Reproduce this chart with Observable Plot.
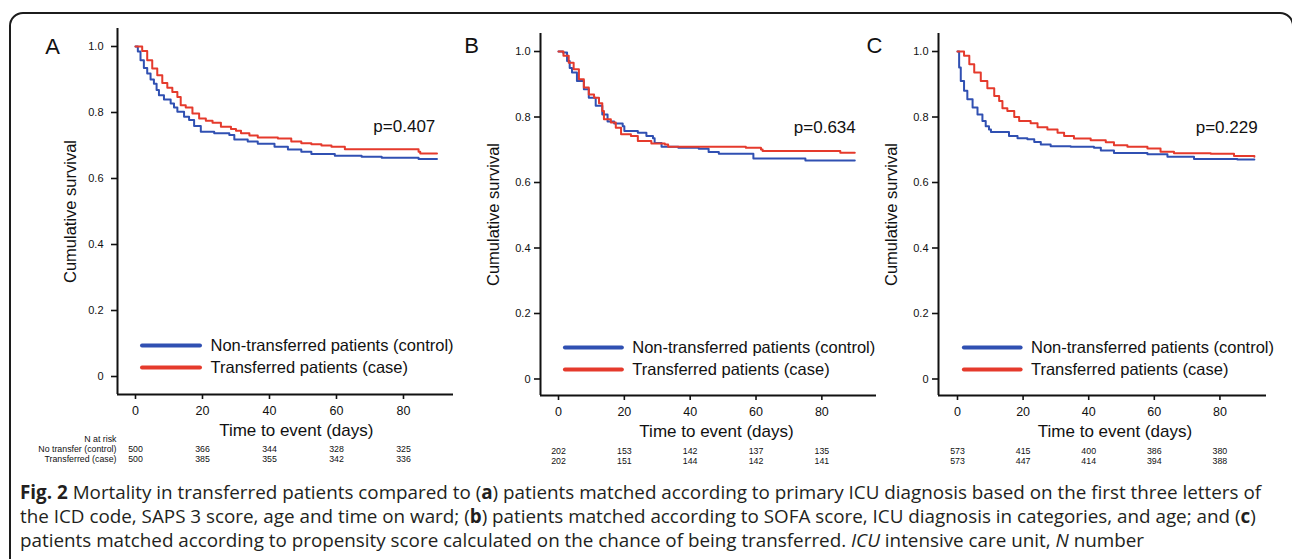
<!DOCTYPE html>
<html><head><meta charset="utf-8">
<script src="https://cdn.jsdelivr.net/npm/d3@7"></script>
<script src="https://cdn.jsdelivr.net/npm/@observablehq/plot@0.6"></script>
<style>
html,body{margin:0;padding:0;background:#fff;}
#wrap{position:relative;width:1292px;height:559px;overflow:hidden;background:#fff;}
#frame{position:absolute;left:9px;top:12px;width:1285px;height:700px;box-sizing:border-box;border:2px solid #1c1c1c;border-radius:14px;}
.panel{position:absolute;top:0;}
#caption{position:absolute;left:20px;top:480px;font-family:"Open Sans",sans-serif;color:#231f20;white-space:nowrap;}
#caption div{line-height:24px;}
</style></head><body>
<div id="wrap">
<div id="frame"></div>
<div id="pA" class="panel" style="left:0px"></div>
<div id="pB" class="panel" style="left:430px"></div>
<div id="pC" class="panel" style="left:860px"></div>
<div id="caption">
<div id="cl1"><b>Fig. 2</b> Mortality in transferred patients compared to (<b>a</b>) patients matched according to primary ICU diagnosis based on the first three letters of</div>
<div id="cl2">the ICD code, SAPS 3 score, age and time on ward; (<b>b</b>) patients matched according to SOFA score, ICU diagnosis in categories, and age; and (<b>c</b>)</div>
<div id="cl3">patients matched according to propensity score calculated on the chance of being transferred. <i>ICU</i> intensive care unit, <i>N</i> number</div>
</div>
</div>
<script>
// ---------- DATA ----------
const panelLetters = ["A", "B", "C"];
const seriesNames = ["Non-transferred patients (control)", "Transferred patients (case)"];
const pValues = ["p=0.407", "p=0.634", "p=0.229"];
const timeTicks = [0, 20, 40, 60, 80];
const survTicks = [0, 0.2, 0.4, 0.6, 0.8, 1.0];
const riskRowLabels = ["N at risk", "No transfer (control)", "Transferred (case)"];

// Panel A: [days, survival]
const aControl = [[0,1],[0.7,0.985],[1.5,0.958],[2.5,0.935],[3.5,0.918],[4.5,0.9],[5.5,0.887],[6.3,0.868],[7,0.852],[8.5,0.839],[10.5,0.827],[11.5,0.815],[12.5,0.802],[14.5,0.787],[16,0.777],[17.5,0.759],[19.5,0.742],[23.5,0.737],[28,0.732],[29.5,0.718],[33.5,0.712],[36.5,0.705],[41.5,0.696],[45.5,0.688],[49.5,0.681],[52.5,0.674],[59.5,0.669],[67.5,0.666],[73.5,0.663],[84.5,0.659],[90,0.659]];
const aCase = [[0,1],[2,0.986],[3.5,0.958],[5,0.933],[6.5,0.913],[8,0.889],[9.5,0.875],[11,0.862],[12.5,0.847],[13.5,0.822],[15,0.815],[17,0.797],[19,0.782],[21,0.775],[23,0.769],[25.5,0.757],[28.5,0.75],[30,0.745],[31.5,0.737],[34,0.73],[36.5,0.724],[42.5,0.721],[46.5,0.712],[49.5,0.707],[52.5,0.704],[55.5,0.7],[58.5,0.696],[62.5,0.689],[84.5,0.681],[85,0.676],[90,0.676]];
const aRiskControl = [500, 366, 344, 328, 325];
const aRiskCase = [500, 385, 355, 342, 336];

// Panel B
const bControl = [[0,1],[1.3,0.997],[2.6,0.971],[3.4,0.95],[4.1,0.936],[5.6,0.91],[7.7,0.885],[9.2,0.859],[11.3,0.834],[13.3,0.808],[14.9,0.786],[16.9,0.78],[19.5,0.772],[20,0.757],[24.1,0.752],[26.7,0.742],[28.7,0.735],[29.2,0.721],[31.3,0.709],[36.4,0.706],[42.6,0.703],[45.6,0.693],[48.7,0.688],[59.2,0.673],[75,0.667],[90,0.667]];
const bCase = [[0,1],[1.5,0.987],[3.1,0.966],[4.6,0.946],[6.2,0.915],[7.7,0.89],[9.2,0.869],[10.8,0.859],[12.3,0.842],[13.3,0.818],[13.8,0.793],[15.9,0.783],[17.4,0.767],[19,0.747],[22,0.742],[24.1,0.727],[28.2,0.719],[32.3,0.716],[33.3,0.709],[56.9,0.706],[61.5,0.701],[62,0.696],[85.6,0.691],[90,0.691]];
const bRiskControl = [202, 153, 142, 137, 135];
const bRiskCase = [202, 151, 144, 142, 141];

// Panel C
const cControl = [[0,1],[0.5,0.951],[1,0.91],[2,0.88],[3,0.854],[4.6,0.829],[6.1,0.808],[7.6,0.788],[8.6,0.772],[9.6,0.762],[10.2,0.754],[15.7,0.742],[18.3,0.735],[21.3,0.732],[23.4,0.724],[25.4,0.716],[28.4,0.711],[34.5,0.709],[41.6,0.706],[43.7,0.698],[47.7,0.69],[57.9,0.686],[64,0.679],[72.1,0.672],[85.3,0.67],[90.5,0.67]];
const cCase = [[0,1],[2,0.987],[3.6,0.961],[5.1,0.936],[7.1,0.91],[9.1,0.888],[11.2,0.864],[12.7,0.849],[13.7,0.827],[15.2,0.818],[17.3,0.8],[18.8,0.788],[22.3,0.781],[24.4,0.769],[27.4,0.762],[30.5,0.752],[32.5,0.742],[35.5,0.734],[40.6,0.729],[45.2,0.723],[47.7,0.714],[51.8,0.709],[57.9,0.704],[61.9,0.694],[66,0.689],[77.2,0.688],[84.3,0.681],[90.5,0.679]];
const cRiskControl = [573, 415, 400, 386, 380];
const cRiskCase = [573, 447, 414, 394, 388];

// ---------- STYLE / LAYOUT ----------
const colors = ["#3050b2", "#e53a2c"];
const ink = "#111";
const FONT = "'Liberation Sans', Arial, Helvetica, sans-serif";

const panels = [
  {el: "#pA", width: 460, ml: 117, mr: 7, mt: 28, mb: 81, xdom: [-5.37, 94.93], ydom: [-0.0545, 1.0545], tickPad: 8,
   letterDx: -65, letterDy: 18, pX: 89.5, pY: 0.757, legY: [0.094, 0.027], riskDy: [54.5, 64.5], showRowLabels: true,
   control: aControl, cas: aCase, riskC: aRiskControl, riskT: aRiskCase},
  {el: "#pB", width: 450, ml: 110, mr: 4, mt: 33, mb: 80, xdom: [-5.47, 96.6], ydom: [-0.0504, 1.055], tickPad: 4,
   letterDx: -69, letterDy: 12, pX: 90.3, pY: 0.768, legY: [0.096, 0.029], riskDy: [55.5, 65.5], showRowLabels: false,
   control: bControl, cas: bCase, riskC: bRiskControl, riskT: bRiskCase},
  {el: "#pC", width: 432, ml: 78, mr: 26, mt: 33, mb: 80, xdom: [-5.79, 94.2], ydom: [-0.0504, 1.055], tickPad: 4,
   letterDx: -64, letterDy: 12, pX: 91.5, pY: 0.768, legY: [0.096, 0.029], riskDy: [55.5, 65.5], showRowLabels: false,
   control: cControl, cas: cCase, riskC: cRiskControl, riskT: cRiskCase}
];

panels.forEach((cfg, k) => {
  const legend = seriesNames.map((name, i) => ({name, color: colors[i], y: cfg.legY[i]}));
  const T = {fill: ink, lineAnchor: "middle"};
  const marks = [
    Plot.axisY({ticks: survTicks, tickFormat: d => d === 0 ? "0" : d.toFixed(1), tickSize: 6, tickPadding: cfg.tickPad,
      fontSize: 11, strokeWidth: 1.6, stroke: ink, fill: ink, label: null}),
    Plot.axisX({ticks: timeTicks, tickSize: 5, tickPadding: 7, fontSize: 12.5, strokeWidth: 1.6, stroke: ink, fill: ink, label: null}),
    Plot.ruleX([cfg.xdom[0]], {stroke: ink, strokeWidth: 2}),
    Plot.ruleY([cfg.ydom[0]], {stroke: ink, strokeWidth: 2}),
    Plot.line(cfg.control, {x: d => d[0], y: d => d[1], curve: "step-after", stroke: colors[0], strokeWidth: 2}),
    Plot.line(cfg.cas, {x: d => d[0], y: d => d[1], curve: "step-after", stroke: colors[1], strokeWidth: 2}),
    Plot.ruleY(legend, {y: "y", x1: 2.1, x2: 19.4, stroke: "color", strokeWidth: 4, strokeLinecap: "round"}),
    Plot.text(legend, {...T, x: 22.4, y: "y", text: "name", textAnchor: "start", fontSize: 16.5}),
    Plot.text([pValues[k]], {...T, x: cfg.pX, y: cfg.pY, text: d => d, textAnchor: "end", fontSize: 17}),
    Plot.text([panelLetters[k]], {...T, frameAnchor: "top-left", dx: cfg.letterDx, dy: cfg.letterDy, text: d => d, textAnchor: "middle", fontSize: 22}),
    Plot.text(["Cumulative survival"], {...T, frameAnchor: "left", rotate: -90, dx: -47, text: d => d, textAnchor: "middle", fontSize: 16.5}),
    Plot.text(["Time to event (days)"], {...T, x: 48, frameAnchor: "bottom", dy: 36, text: d => d, textAnchor: "middle", fontSize: 17}),
    Plot.text(timeTicks, {...T, x: d => d, frameAnchor: "bottom", dy: cfg.riskDy[0], text: (d, i) => cfg.riskC[i], textAnchor: "middle", fontSize: 8.8}),
    Plot.text(timeTicks, {...T, x: d => d, frameAnchor: "bottom", dy: cfg.riskDy[1], text: (d, i) => cfg.riskT[i], textAnchor: "middle", fontSize: 8.8})
  ];
  if (cfg.showRowLabels) {
    const dys = [44.5, cfg.riskDy[0], cfg.riskDy[1]];
    riskRowLabels.forEach((lab, i) => {
      marks.push(Plot.text([lab], {...T, frameAnchor: "bottom-left", dx: -1, dy: dys[i], text: d => d, textAnchor: "end", fontSize: 8.8}));
    });
  }
  const chart = Plot.plot({
    width: cfg.width, height: 475,
    marginLeft: cfg.ml, marginRight: cfg.mr, marginTop: cfg.mt, marginBottom: cfg.mb,
    x: {domain: cfg.xdom}, y: {domain: cfg.ydom},
    style: {fontFamily: FONT, background: "transparent", overflow: "visible", color: ink},
    marks
  });
  document.querySelector(cfg.el).appendChild(chart);
});

// fit caption line 1 to its width in the reference
const cap = document.getElementById("caption");
cap.style.fontSize = "17px";
const l1 = document.getElementById("cl1");
const span = document.createElement("span");
span.innerHTML = l1.innerHTML; span.style.whiteSpace = "nowrap";
l1.innerHTML = ""; l1.appendChild(span);
const ww = span.getBoundingClientRect().width;
cap.style.fontSize = (17 * 1242 / ww).toFixed(2) + "px";
</script>
</body></html>
